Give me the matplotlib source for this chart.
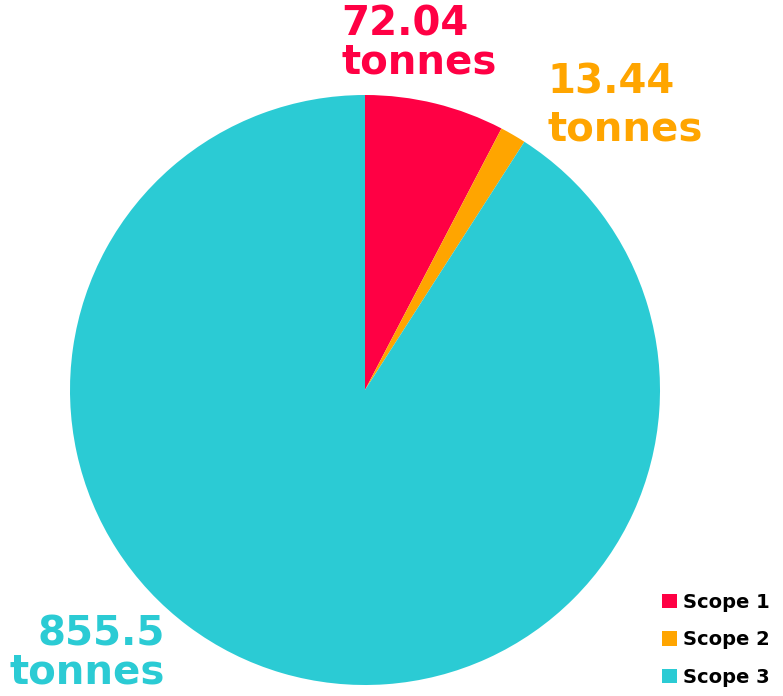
import matplotlib.pyplot as plt

# dados
scopes = ['Scope 1', 'Scope 2', 'Scope 3']
tonnes = [72.04, 13.44, 855.5]
labels = ['72.04\ntonnes', '13.44\ntonnes', '855.5\ntonnes']
colors = ['#FF0044', '#FFA500', '#2BCBD4']

W, H = 783, 696
fig = plt.figure(figsize=(W / 100, H / 100), dpi=100)

# pizza
cx, cy, r = 365, 390, 295
ax = fig.add_axes([(cx - r) / W, (H - cy - r) / H, 2 * r / W, 2 * r / H])
wedges, _ = ax.pie(tonnes, colors=colors, startangle=90, counterclock=False,
                   radius=1, wedgeprops=dict(linewidth=0))
ax.set_xlim(-1, 1)
ax.set_ylim(-1, 1)
ax.set_aspect('equal')
ax.axis('off')

# rótulos
font = dict(fontsize=29, fontweight='bold', family='DejaVu Sans')
fig.text(341 / W, 1 - 5 / H, labels[0], color=colors[0], ha='left', va='top',
         linespacing=0.92, **font)
fig.text(547 / W, 1 - 63 / H, labels[1], color=colors[1], ha='left', va='top',
         linespacing=1.2, **font)
fig.text(165 / W, 1 - 615 / H, labels[2], color=colors[2], ha='right', va='top',
         linespacing=0.92, **font)

# legenda
leg = fig.legend(wedges, scopes, loc='lower right', bbox_to_anchor=(1.005, -0.012),
                 frameon=False, handlelength=0.75, handleheight=0.75,
                 handletextpad=0.3, labelspacing=0.95,
                 prop=dict(size=14, weight='bold', family='DejaVu Sans'))

fig.savefig('out.png', dpi=100)
